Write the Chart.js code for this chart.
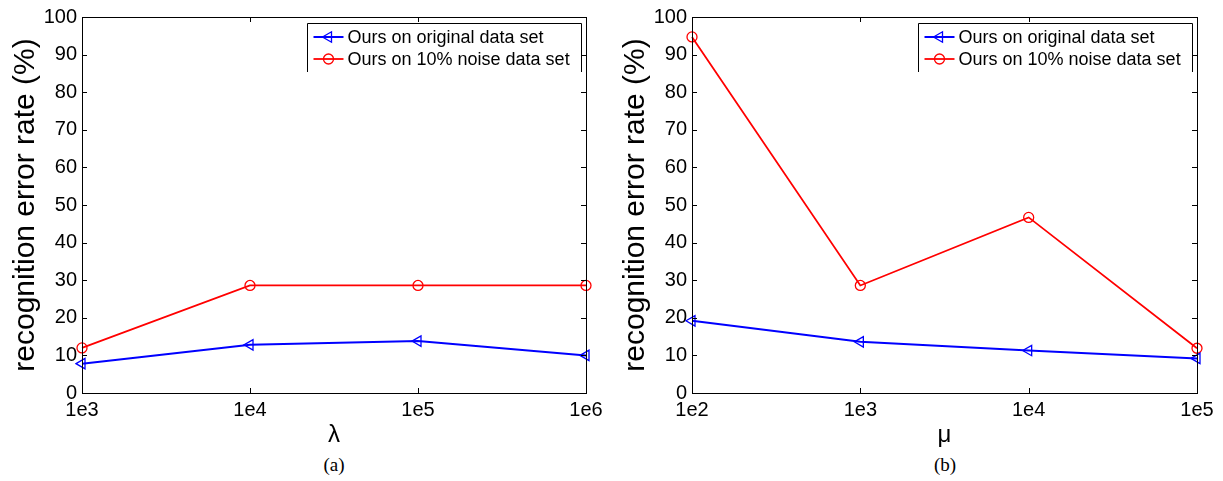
<!DOCTYPE html>
<html>
<head>
<meta charset="utf-8">
<script src="https://cdn.jsdelivr.net/npm/chart.js@4/dist/chart.umd.min.js"></script>
<style>
  body { margin: 0; background: #fff; width: 1223px; height: 481px; overflow: hidden; position: relative; }
  .panel { position: absolute; top: 0; height: 450px; }
  .caption { position: absolute; top: 454px; font: 19px "Liberation Serif", serif; color: #000; text-align: center; width: 40px; }
</style>
</head>
<body>
<div class="panel" style="left:0;width:610px"><canvas id="chart-a"></canvas></div>
<div class="panel" style="left:610px;width:613px"><canvas id="chart-b"></canvas></div>
<div class="caption" style="left:314px">(a)</div>
<div class="caption" style="left:925px">(b)</div>
<script>
// panel (a): lambda
const lambdaLabels = ['1e3', '1e4', '1e5', '1e6'];
const lambdaOriginal = [7.8, 12.8, 13.8, 10.0];
const lambdaNoise = [12.0, 28.6, 28.6, 28.6];

// panel (b): mu
const muLabels = ['1e2', '1e3', '1e4', '1e5'];
const muOriginal = [19.2, 13.6, 11.3, 9.2];
const muNoise = [94.7, 28.6, 46.7, 11.9];

const yTicks = [0, 10, 20, 30, 40, 50, 60, 70, 80, 90, 100];
const seriesNames = ['Ours on original data set', 'Ours on 10% noise data set'];

const SANS = '"Liberation Sans", Arial, sans-serif';

// matlab-like box, inward ticks and legend
const boxPlugin = {
  id: 'matlabBox',
  afterDatasetsDraw(chart) {
    const { ctx, chartArea: a, scales } = chart;
    ctx.save();
    ctx.strokeStyle = '#000';
    ctx.lineWidth = 1;
    ctx.strokeRect(Math.round(a.left) + 0.5, Math.round(a.top) + 0.5,
      Math.round(a.right - a.left), Math.round(a.bottom - a.top));
    const tl = 5;
    ctx.beginPath();
    scales.x.ticks.forEach((t, i) => {
      const x = Math.round(scales.x.getPixelForTick(i)) + 0.5;
      ctx.moveTo(x, a.bottom); ctx.lineTo(x, a.bottom - tl);
      ctx.moveTo(x, a.top); ctx.lineTo(x, a.top + tl);
    });
    scales.y.ticks.forEach((t, i) => {
      const y = Math.round(scales.y.getPixelForTick(i)) + 0.5;
      ctx.moveTo(a.left, y); ctx.lineTo(a.left + tl, y);
      ctx.moveTo(a.right, y); ctx.lineTo(a.right - tl, y);
    });
    ctx.stroke();

    // legend box in the top right corner
    const lx = Math.round(a.right - 279) + 0.5;
    const rx = Math.round(a.right - 5) + 0.5;
    const ty = Math.round(a.top + 6) + 0.5;
    ctx.beginPath();
    ctx.moveTo(lx, a.top + 55); ctx.lineTo(lx, ty); ctx.lineTo(rx, ty); ctx.lineTo(rx, a.top + 55);
    ctx.stroke();
    ctx.fillStyle = '#fff';
    ctx.fillRect(lx + 1, ty + 1, rx - lx - 2, 53);

    ctx.font = '18px ' + SANS;
    ctx.textBaseline = 'middle';
    chart.data.datasets.forEach((ds, i) => {
      const y = a.top + 20 + i * 22;
      const x0 = lx + 6;
      ctx.strokeStyle = ds.borderColor;
      ctx.lineWidth = ds.borderWidth;
      ctx.beginPath();
      ctx.moveTo(x0, y); ctx.lineTo(x0 + 30, y);
      ctx.stroke();
      ctx.fillStyle = 'rgba(0,0,0,0)';
      ctx.lineWidth = ds.pointBorderWidth;
      Chart.helpers.drawPoint(ctx, {
        pointStyle: ds.pointStyle,
        rotation: ds.pointRotation || 0,
        radius: ds.pointRadius,
        borderWidth: ds.pointBorderWidth
      }, x0 + 15, y);
      ctx.fillStyle = '#000';
      ctx.fillText(ds.label, x0 + 34, y + 1);
    });
    ctx.restore();
  }
};

function makeChart(id, labels, original, noise, xTitle) {
  const ctx = document.getElementById(id).getContext('2d');
  return new Chart(ctx, {
    type: 'line',
    data: {
      labels,
      datasets: [{
        label: seriesNames[0],
        data: original,
        borderColor: '#0000ff',
        backgroundColor: 'rgba(0,0,0,0)',
        borderWidth: 2,
        pointStyle: 'triangle',
        pointRotation: -90,
        pointRadius: 6,
        pointBorderWidth: 1.3,
        pointBackgroundColor: 'rgba(0,0,0,0)',
        pointBorderColor: '#0000ff'
      }, {
        label: seriesNames[1],
        data: noise,
        borderColor: '#ff0000',
        backgroundColor: 'rgba(0,0,0,0)',
        borderWidth: 1.8,
        pointStyle: 'circle',
        pointRadius: 5,
        pointBorderWidth: 1.3,
        pointBackgroundColor: 'rgba(0,0,0,0)',
        pointBorderColor: '#ff0000'
      }]
    },
    options: {
      responsive: true,
      maintainAspectRatio: false,
      animation: false,
      layout: {
        padding: { top: 16, right: id === 'chart-a' ? 24 : 26, left: 0, bottom: 0 }
      },
      scales: {
        x: {
          type: 'category',
          offset: false,
          grid: { display: false, drawTicks: false },
          border: { display: false },
          ticks: { color: '#000', font: { family: SANS, size: 20 }, padding: 5, maxRotation: 0, autoSkip: false },
          title: { display: true, text: xTitle, color: '#000', font: { family: SANS, size: 24 }, padding: { top: 2, bottom: 0 } },
          afterFit(scale) { scale.height = 57; }
        },
        y: {
          min: 0,
          max: 100,
          afterBuildTicks(scale) { scale.ticks = yTicks.map(v => ({ value: v })); },
          grid: { display: false, drawTicks: false },
          border: { display: false },
          ticks: { color: '#000', font: { family: SANS, size: 20 }, padding: 5 },
          title: { display: true, text: 'recognition error rate (%)', color: '#000', font: { family: SANS, size: 30 }, padding: { top: 8, bottom: 0 } },
          afterFit(scale) { scale.width = 82; }
        }
      },
      plugins: {
        legend: { display: false },
        tooltip: { enabled: false }
      }
    },
    plugins: [boxPlugin]
  });
}

makeChart('chart-a', lambdaLabels, lambdaOriginal, lambdaNoise, 'λ');
makeChart('chart-b', muLabels, muOriginal, muNoise, 'μ');
</script>
</body>
</html>
